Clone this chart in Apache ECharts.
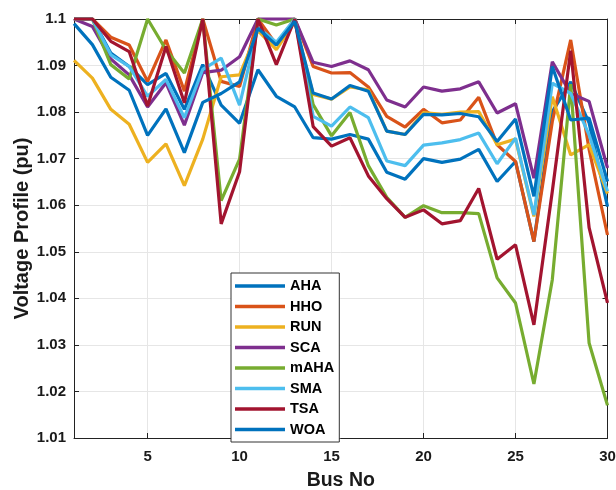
<!DOCTYPE html>
<html>
<head>
<meta charset="utf-8">
<script src="https://cdn.jsdelivr.net/npm/echarts@6/dist/echarts.min.js"></script>
<style>
html,body{margin:0;padding:0;background:#fff;}
#chart{width:616px;height:490px;}
</style>
</head>
<body>
<div id="chart"></div>
<script>
const buses = Array.from({length: 30}, (_, i) => String(i + 1));
const yTicks = [1.01, 1.1, 0.01];

const AHA  = [1.1, 1.1, 1.0927, 1.0898, 1.0859, 1.0883, 1.0806, 1.0902, 1.0815, 1.0776, 1.0891, 1.0834, 1.0811, 1.0745, 1.0742, 1.0752, 1.0742, 1.0671, 1.0656, 1.0700, 1.0692, 1.0699, 1.0720, 1.0651, 1.0694, 1.0522, 1.0801, 1.0865, 1.0777, 1.0597];
const HHO  = [1.1, 1.1, 1.0961, 1.0944, 1.0866, 1.0955, 1.0845, 1.1, 1.0866, 1.0855, 1.1, 1.0945, 1.1, 1.0898, 1.0884, 1.0885, 1.0854, 1.0791, 1.0768, 1.0806, 1.0777, 1.0783, 1.0832, 1.0730, 1.0694, 1.0522, 1.0780, 1.0955, 1.0720, 1.0536];
const RUN  = [1.0911, 1.0873, 1.0806, 1.0774, 1.0692, 1.0732, 1.0642, 1.0742, 1.0876, 1.0880, 1.0975, 1.0934, 1.0994, 1.0838, 1.0828, 1.0854, 1.0848, 1.0759, 1.0752, 1.0799, 1.0795, 1.0800, 1.0801, 1.0730, 1.0742, 1.0576, 1.0833, 1.0708, 1.0730, 1.0625];
const SCA  = [1.1, 1.0984, 1.0914, 1.0880, 1.0811, 1.0863, 1.0772, 1.0885, 1.0890, 1.0919, 1.1, 1.1, 1.1, 1.0907, 1.0898, 1.0910, 1.0891, 1.0826, 1.0811, 1.0854, 1.0845, 1.0850, 1.0865, 1.0798, 1.0818, 1.0658, 1.0908, 1.0840, 1.0823, 1.0680];
const mAHA = [1.1, 1.1, 1.0902, 1.0871, 1.1, 1.0934, 1.0884, 1.1, 1.0610, 1.0699, 1.1, 1.0987, 1.1, 1.0816, 1.0749, 1.0799, 1.0685, 1.0617, 1.0574, 1.0599, 1.0584, 1.0584, 1.0582, 1.0444, 1.0390, 1.0216, 1.0440, 1.0860, 1.0304, 1.0170];
const SMA  = [1.1, 1.1, 1.0923, 1.0898, 1.0834, 1.0870, 1.0788, 1.0892, 1.0916, 1.0815, 1.0982, 1.0950, 1.1, 1.0791, 1.0770, 1.0811, 1.0788, 1.0695, 1.0685, 1.0729, 1.0734, 1.0741, 1.0755, 1.0689, 1.0744, 1.0579, 1.0862, 1.0840, 1.0751, 1.0630];
const TSA  = [1.1, 1.1, 1.0952, 1.0930, 1.0813, 1.0941, 1.0820, 1.1, 1.0560, 1.0672, 1.1, 1.0902, 1.1, 1.0769, 1.0727, 1.0745, 1.0663, 1.0614, 1.0574, 1.0590, 1.0560, 1.0567, 1.0636, 1.0484, 1.0515, 1.0343, 1.0630, 1.0932, 1.0552, 1.0390];
const WOA  = [1.099, 1.0945, 1.0875, 1.0847, 1.0750, 1.0807, 1.0713, 1.0821, 1.0840, 1.0865, 1.0980, 1.0944, 1.0995, 1.0841, 1.0828, 1.0857, 1.0845, 1.0759, 1.0752, 1.0795, 1.0794, 1.0797, 1.0790, 1.0737, 1.0785, 1.0619, 1.0898, 1.0783, 1.0787, 1.0651];

const names  = ['AHA', 'HHO', 'RUN', 'SCA', 'mAHA', 'SMA', 'TSA', 'WOA'];
const values = [AHA, HHO, RUN, SCA, mAHA, SMA, TSA, WOA];
const colors = ['#0072BD', '#D95319', '#EDB120', '#7E2F8E', '#77AC30', '#4DBEEE', '#A2142F', '#0072BD'];

const FONT = 'Liberation Sans, Arial, sans-serif';
const every5 = (i) => (i + 1) % 5 === 0;

const chart = echarts.init(document.getElementById('chart'), null, {renderer: 'canvas'});
chart.setOption({
  animation: false,
  backgroundColor: '#fff',
  color: colors,
  grid: {left: 74, right: 8.5, top: 19, bottom: 52, containLabel: false, outerBoundsMode: 'none'},
  legend: {
    orient: 'vertical',
    left: 231, top: 273,
    padding: [5.5, 5, 5, 4],
    itemGap: 5.5,
    itemWidth: 50, itemHeight: 3.5,
    icon: 'rect',
    backgroundColor: '#fff',
    borderColor: '#333',
    borderWidth: 1,
    borderRadius: 0,
    textStyle: {fontFamily: FONT, fontWeight: 'bold', fontSize: 14.5, color: '#000'},
    data: names
  },
  xAxis: [{
    type: 'category', data: buses, boundaryGap: false,
    name: 'Bus No', nameLocation: 'middle', nameGap: 33, nameMoveOverlap: false,
    nameTextStyle: {fontFamily: FONT, fontWeight: 'bold', fontSize: 19.5, color: '#1a1a1a'},
    axisLine: {lineStyle: {color: '#222', width: 1}},
    axisTick: {inside: true, length: 5, interval: every5, lineStyle: {color: '#222'}},
    axisLabel: {interval: every5, margin: 11, fontFamily: FONT, fontWeight: 'bold', fontSize: 15, color: '#1a1a1a'},
    splitLine: {show: true, interval: every5, lineStyle: {color: '#e6e6e6', width: 1}}
  }, {
    type: 'category', data: buses, boundaryGap: false, position: 'top',
    axisLine: {lineStyle: {color: '#222', width: 1}},
    axisTick: {inside: true, length: 5, interval: every5, lineStyle: {color: '#222'}},
    axisLabel: {show: false},
    splitLine: {show: false}
  }],
  yAxis: [{
    type: 'value', min: yTicks[0], max: yTicks[1], interval: yTicks[2],
    name: 'Voltage Profile (pu)', nameLocation: 'middle', nameGap: 42, nameMoveOverlap: false,
    nameTextStyle: {fontFamily: FONT, fontWeight: 'bold', fontSize: 20, color: '#1a1a1a'},
    axisLine: {show: true, lineStyle: {color: '#222', width: 1}},
    axisTick: {show: true, inside: true, length: 5, lineStyle: {color: '#222'}},
    axisLabel: {margin: 8, fontFamily: FONT, fontWeight: 'bold', fontSize: 15, color: '#1a1a1a',
      formatter: (v) => String(+v.toFixed(2))},
    splitLine: {show: true, lineStyle: {color: '#e6e6e6', width: 1}}
  }, {
    type: 'value', min: yTicks[0], max: yTicks[1], interval: yTicks[2], position: 'right',
    axisLine: {show: true, lineStyle: {color: '#222', width: 1}},
    axisTick: {show: true, inside: true, length: 5, lineStyle: {color: '#222'}},
    axisLabel: {show: false},
    splitLine: {show: false}
  }],
  series: names.map((n, k) => ({
    name: n, type: 'line', data: values[k],
    xAxisIndex: 0, yAxisIndex: 0,
    showSymbol: false, symbol: 'none', clip: false,
    lineStyle: {width: 3.2, color: colors[k]},
    itemStyle: {color: colors[k]},
    z: 2 + k
  }))
});
</script>
</body>
</html>
